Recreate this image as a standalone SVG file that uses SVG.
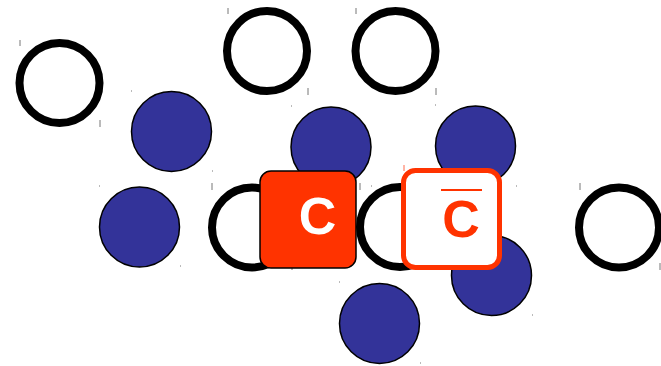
<svg xmlns="http://www.w3.org/2000/svg" width="661" height="366" viewBox="0 0 661 366">
<style>
.ring{fill:#fff;stroke:#000;stroke-width:8}
.dot{fill:#333399;stroke:#000;stroke-width:1.5}
.tick{stroke:#777;stroke-width:1}
.lbl{font-family:"Liberation Sans",Arial,sans-serif;font-weight:bold;font-size:52px;text-anchor:middle}
</style>
<rect width="661" height="366" fill="#fff"/>
<g id="ticks">
<path class="tick" d="M20 40v6M100 120v7M228 8v6M308 88v7M356 8v6M436 88v7M212 183v7M292 263v7M360 183v7M440 263v7M580 183v7M660 263v7"/>
<path class="tick" d="M131 91h1M212 171h1M99 186h1M180 266h1M291 106h1M371 186h1M435 105h1M516 186h1M451 234h1M532 315h1M339 282h1M420 363h1"/>
<path d="M404 165v6M510 265v7" stroke="#ff6a4d" stroke-width="1"/>
</g>
<g id="ring1"><circle class="ring" cx="59.5" cy="83" r="40"/></g>
<g id="ring2"><circle class="ring" cx="267" cy="51" r="40"/></g>
<g id="ring3"><circle class="ring" cx="395.5" cy="51" r="40"/></g>
<g id="ring4"><circle class="ring" cx="252" cy="227.5" r="40"/></g>
<g id="ring5"><circle class="ring" cx="400" cy="227" r="40"/></g>
<g id="ring6"><circle class="ring" cx="619" cy="227.5" r="40"/></g>
<g id="dot1"><circle class="dot" cx="171.5" cy="131.5" r="40"/></g>
<g id="dot2"><circle class="dot" cx="139.5" cy="227" r="40"/></g>
<g id="dot3"><circle class="dot" cx="331" cy="147" r="40"/></g>
<g id="dot4"><circle class="dot" cx="475.5" cy="146" r="40"/></g>
<g id="dot5"><circle class="dot" cx="491.5" cy="275.5" r="40"/></g>
<g id="dot6"><circle class="dot" cx="379.5" cy="323.5" r="40"/></g>
<g id="nodeC">
<rect x="260" y="171" width="96" height="97" rx="11" fill="#ff3300" stroke="#000" stroke-width="1.5"/>
<text class="lbl" x="317.5" y="234" fill="#fff">C</text>
</g>
<g id="nodeCbar">
<rect x="403.5" y="170.5" width="96" height="97" rx="12" fill="#fff" stroke="#ff3300" stroke-width="5"/>
<line x1="441" y1="190" x2="482" y2="190" stroke="#ff3300" stroke-width="2"/>
<text class="lbl" x="461" y="237" fill="#ff3300">C</text>
</g>
</svg>
